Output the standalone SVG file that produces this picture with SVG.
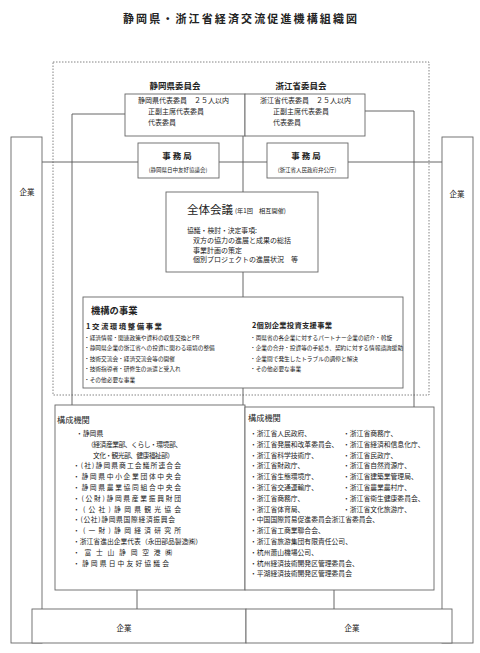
<svg xmlns="http://www.w3.org/2000/svg" width="480" height="653" viewBox="0 0 480 653">
<style>
text{font-family:"Noto Sans CJK JP","Noto Sans",sans-serif;fill:#222;dominant-baseline:central}
.box{fill:#fff;stroke:#666;stroke-width:0.9}
.ln{fill:none;stroke:#555;stroke-width:0.9}
.dot{fill:none;stroke:#666;stroke-width:0.8;stroke-dasharray:1.5 1.5}
.s{font-size:6.8px}
.k{font-size:5.7px}
.b{font-weight:bold}
</style>
<rect width="480" height="653" fill="#fff"/>
<text x="240" y="18" class="b" font-size="11" text-anchor="middle" textLength="234" lengthAdjust="spacing">静岡県・浙江省経済交流促進機構組織図</text>

<g id="connectors">
<rect class="dot" x="53" y="62" width="376" height="333"/>
<polyline class="ln" points="125,114 72,114 72,405"/>
<polyline class="ln" points="365,111 414,111 414,407"/>
<line class="ln" x1="42" y1="162" x2="138" y2="162"/>
<line class="ln" x1="219" y1="162" x2="267" y2="162"/>
<line class="ln" x1="348" y1="162" x2="442" y2="162"/>
<line class="ln" x1="243" y1="136" x2="243" y2="192"/>
<line class="ln" x1="243" y1="272" x2="243" y2="297"/>
<line class="ln" x1="243" y1="388" x2="243" y2="405"/>
<line class="ln" x1="137" y1="590" x2="137" y2="609"/>
<line class="ln" x1="334" y1="590" x2="334" y2="609"/>
</g>

<g id="kigyo-left"><rect class="box" x="11" y="137" width="31" height="506"/><text x="27" y="191" font-size="7.5" text-anchor="middle">企業</text></g>
<g id="kigyo-right"><rect class="box" x="442" y="137" width="31" height="506"/><text x="457" y="193" font-size="7.5" text-anchor="middle">企業</text></g>

<g id="committee">
<text x="175" y="85" class="b" font-size="8.5" text-anchor="middle">静岡県委員会</text>
<text x="301" y="85" class="b" font-size="8.5" text-anchor="middle">浙江省委員会</text>
<rect class="box" x="125" y="94" width="120" height="42"/>
<rect class="box" x="245" y="94" width="120" height="42"/>
<text x="138" y="100" font-size="7">静岡県代表委員　２５人以内</text>
<text x="148" y="111" font-size="7">正副主席代表委員</text>
<text x="148" y="122" font-size="7">代表委員</text>
<text x="260" y="100" font-size="7">浙江省代表委員　２５人以内</text>
<text x="273" y="111" font-size="7">正副主席代表委員</text>
<text x="273" y="122" font-size="7">代表委員</text>
</g>

<g id="jimu-left"><rect class="box" x="138" y="143" width="81" height="35"/>
<text x="178" y="155" class="b" font-size="8.5" text-anchor="middle" letter-spacing="2">事務局</text>
<text x="178" y="170" font-size="5.5" text-anchor="middle">(静岡県日中友好協議会)</text></g>
<g id="jimu-right"><rect class="box" x="267" y="143" width="81" height="35"/>
<text x="307" y="155" class="b" font-size="8.5" text-anchor="middle" letter-spacing="2">事務局</text>
<text x="307" y="170" font-size="5.5" text-anchor="middle">(浙江省人民政府弁公庁)</text></g>

<g id="zentai"><rect class="box" x="166" y="192" width="152" height="80"/>
<text x="187" y="209" font-size="11.5">全体会議</text>
<text x="235" y="210" font-size="6.2">(年1回　相互開催)</text>
<text x="187" y="230" font-size="6.8">協議・検討・決定事項:</text>
<text x="193" y="240" font-size="7">双方の協力の進展と成果の総括</text>
<text x="193" y="249.5" font-size="7">事業計画の策定</text>
<text x="193" y="259" font-size="7">個別プロジェクトの進展状況　等</text></g>

<g id="kikou"><rect class="box" x="83" y="297" width="320" height="91"/>
<text x="91" y="310" font-size="9.3" class="b">機構の事業</text>
<text x="86" y="325" font-size="7.4" class="b" textLength="76" lengthAdjust="spacing">1交流環境整備事業</text>
<text x="84" y="337" class="k">・経済情報・関連政策や資料の収集交換とPR</text>
<text x="84" y="347.5" class="k">・静岡県企業の浙江省への投資に関わる環境の整備</text>
<text x="84" y="358" class="k">・技術交流会・経済交流会等の開催</text>
<text x="84" y="368.5" class="k">・技術指導者・研修生の派遣と受入れ</text>
<text x="84" y="379" class="k">・その他必要な事業</text>
<text x="252" y="325" font-size="7.3" class="b" textLength="80" lengthAdjust="spacing">2個別企業投資支援事業</text>
<text x="250" y="337" class="k">・両県省の各企業に対するパートナー企業の紹介・斡旋</text>
<text x="250" y="347.5" class="k">・企業の合弁・投資等の手続き、契約に対する情報諮詢援助</text>
<text x="250" y="358" class="k">・企業間で発生したトラブルの調停と解決</text>
<text x="250" y="368.5" class="k">・その他必要な事業</text></g>

<g id="member-left"><rect class="box" x="55" y="405" width="190" height="185"/>
<text x="57" y="419" font-size="8.2">構成機関</text>
<text x="76" y="433" class="s">・静岡県</text>
<text x="87" y="443.8" class="s" textLength="95" lengthAdjust="spacing">（経済産業部、くらし・環境部、</text>
<text x="93" y="454.6" class="s" textLength="81" lengthAdjust="spacing">文化・観光部、健康福祉部）</text>
<text x="73" y="465.4" class="s" textLength="108" lengthAdjust="spacing">・(社)静岡県商工会議所連合会</text>
<text x="73" y="476.2" class="s" textLength="108" lengthAdjust="spacing">・静岡県中小企業団体中央会</text>
<text x="73" y="487" class="s" textLength="108" lengthAdjust="spacing">・静岡県農業協同組合中央会</text>
<text x="73" y="497.8" class="s" textLength="108" lengthAdjust="spacing">・(公財)静岡県産業振興財団</text>
<text x="73" y="508.6" class="s" textLength="108" lengthAdjust="spacing">・(公社)静岡県観光協会</text>
<text x="73" y="519.4" class="s" textLength="102" lengthAdjust="spacing">・(公社)静岡県国際経済振興会</text>
<text x="73" y="530.2" class="s" textLength="108" lengthAdjust="spacing">・(一財)静岡経済研究所</text>
<text x="73" y="541" class="s" textLength="129" lengthAdjust="spacing">・浙江省進出企業代表（永田部品製造㈱）</text>
<text x="73" y="551.8" class="s" textLength="99" lengthAdjust="spacing">・富士山静岡空港㈱</text>
<text x="73" y="562.6" class="s" textLength="96" lengthAdjust="spacing">・静岡県日中友好協議会</text></g>

<g id="member-right"><rect class="box" x="245" y="407" width="189" height="183"/>
<text x="248" y="417" font-size="8.2">構成機関</text>
<text x="250" y="433" class="s">・浙江省人民政府、</text>
<text x="250" y="443.8" class="s">・浙江省発展和改革委員会、</text>
<text x="250" y="454.6" class="s">・浙江省科学技術庁、</text>
<text x="250" y="465.4" class="s">・浙江省財政庁、</text>
<text x="250" y="476.2" class="s">・浙江省生態環境庁、</text>
<text x="250" y="487" class="s">・浙江省交通運輸庁、</text>
<text x="250" y="497.8" class="s">・浙江省商務庁、</text>
<text x="250" y="508.6" class="s">・浙江省体育局、</text>
<text x="343" y="433" class="s">・浙江省商務庁、</text>
<text x="343" y="443.8" class="s">・浙江省経済和信息化庁、</text>
<text x="343" y="454.6" class="s">・浙江省民政庁、</text>
<text x="343" y="465.4" class="s">・浙江省自然資源庁、</text>
<text x="343" y="476.2" class="s">・浙江省建築業管理局、</text>
<text x="343" y="487" class="s">・浙江省農業農村庁、</text>
<text x="343" y="497.8" class="s">・浙江省衛生健康委員会、</text>
<text x="343" y="508.6" class="s">・浙江省文化旅游庁、</text>
<text x="250" y="519.4" class="s">・中国国際貿易促進委員会浙江省委員会、</text>
<text x="250" y="530.2" class="s">・浙江省工商業聯合会、</text>
<text x="250" y="541" class="s">・浙江省旅游集団有限責任公司、</text>
<text x="250" y="551.8" class="s">・杭州蕭山機場公司、</text>
<text x="250" y="562.6" class="s">・杭州経済技術開発区管理委員会、</text>
<text x="250" y="573.4" class="s">・平湖経済技術開発区管理委員会</text></g>

<g id="kigyo-bottom-left"><rect class="box" x="32" y="609" width="214" height="34"/><text x="124" y="627" font-size="7.5" text-anchor="middle">企業</text></g>
<g id="kigyo-bottom-right"><rect class="box" x="246" y="609" width="206" height="34"/><text x="352" y="627" font-size="7.5" text-anchor="middle">企業</text></g>
</svg>
